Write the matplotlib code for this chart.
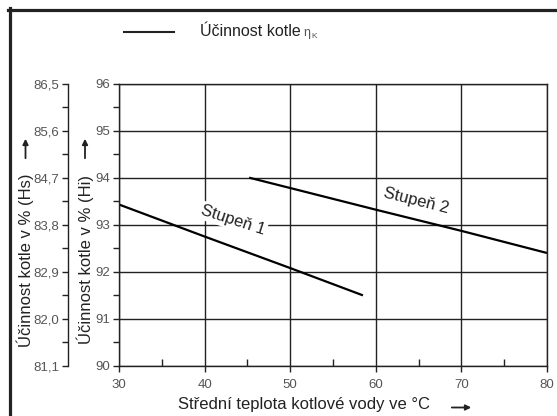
import numpy as np
import matplotlib
matplotlib.use('Agg')
import matplotlib.pyplot as plt
from matplotlib.lines import Line2D
from matplotlib.ticker import MultipleLocator, FixedLocator, FuncFormatter

plt.rcParams['font.family'] = ['Liberation Sans', 'DejaVu Sans']

# curve data
temp_st1 = [30, 40, 50, 58.5]
eff_st1 = [93.43, 92.75, 92.08, 91.5]
temp_st2 = [45.2, 50, 60, 70, 80]
eff_st2 = [94.0, 93.78, 93.32, 92.87, 92.4]

hi_ticks = [90, 91, 92, 93, 94, 95, 96]
hs_ticks = [81.1, 82.0, 82.9, 83.8, 84.7, 85.6, 86.5]
x_ticks = [30, 40, 50, 60, 70, 80]

W, H = 557, 416
fig = plt.figure(figsize=(W / 100, H / 100), dpi=100)
ax = fig.add_axes([119 / W, 1 - 366 / H, 428 / W, (366 - 83.5) / H])

dark = '#222222'
tick_grey = '#555555'

ax.plot(temp_st1, eff_st1, color='black', lw=1.6, solid_capstyle='butt')
ax.plot(temp_st2, eff_st2, color='black', lw=1.6, solid_capstyle='butt')

ax.set_xlim(30, 80)
ax.set_ylim(90, 96)
ax.set_xticks(x_ticks)
ax.set_yticks(hi_ticks)
ax.xaxis.set_minor_locator(MultipleLocator(5))
ax.yaxis.set_minor_locator(MultipleLocator(0.5))
ax.grid(True, which='major', color=dark, lw=1.0)
for s in ['top', 'right', 'left', 'bottom']:
    ax.spines[s].set_color(dark)
    ax.spines[s].set_linewidth(1.0)
ax.tick_params(axis='both', which='major', direction='out', length=4, width=1.0,
               color=dark, labelsize=9.5, labelcolor=tick_grey, pad=2.5)
ax.tick_params(axis='x', which='minor', direction='in', length=5, width=1.0, color=dark)
ax.tick_params(axis='y', which='minor', direction='out', length=4, width=1.0, color=dark)
ax.tick_params(axis='x', which='major', pad=5)

# second scale on the left (Hs)
def hi_to_hs(v):
    return 81.1 + (np.asarray(v) - 90) * 0.9

def hs_to_hi(v):
    return 90 + (np.asarray(v) - 81.1) / 0.9

sec = ax.secondary_yaxis((68 - 119) / 428, functions=(hi_to_hs, hs_to_hi))
sec.yaxis.set_major_locator(FixedLocator(hs_ticks))
sec.yaxis.set_minor_locator(FixedLocator([81.55, 82.45, 83.35, 84.25, 85.15, 86.05]))
sec.yaxis.set_major_formatter(FuncFormatter(lambda v, p: f'{v:.1f}'.replace('.', ',')))
sec.spines['left'].set_color(dark)
sec.spines['left'].set_linewidth(1.0)
sec.tick_params(axis='y', which='major', direction='out', length=4, width=1.0,
                color=dark, labelsize=9.5, labelcolor=tick_grey, pad=2.5)
sec.tick_params(axis='y', which='minor', direction='out', length=4, width=1.0, color=dark)

# curve labels
ax.text(43.3, 93.1, 'Stupeň 1', rotation=-18, ha='center', va='center', fontsize=12,
        color='#222222', bbox=dict(facecolor='white', edgecolor='none', pad=1.5))
ax.text(64.7, 93.51, 'Stupeň 2', rotation=-14, ha='center', va='center', fontsize=12,
        color='#222222')

# axis titles with arrows
fig.text(178 / W, 1 - 405 / H, 'Střední teplota kotlové vody ve °C', ha='left', va='center',
         fontsize=12, color='#222222')
ax.annotate('', xy=(474 / W, 1 - 407.5 / H), xytext=(449 / W, 1 - 407.5 / H),
            xycoords='figure fraction',
            arrowprops=dict(arrowstyle='-|>', color='#222222', lw=1.3, mutation_scale=8))

for xp, lab in [(25.5, 'Účinnost kotle v % (Hs)'), (85, 'Účinnost kotle v % (Hi)')]:
    fig.text(xp / W, 1 - 260 / H, lab, rotation=90, ha='center', va='center',
             fontsize=12, color='#222222')
    ax.annotate('', xy=(xp / W, 1 - 136 / H), xytext=(xp / W, 1 - 161 / H),
                xycoords='figure fraction',
                arrowprops=dict(arrowstyle='-|>', color='#222222', lw=1.3, mutation_scale=8))

# legend-like header
fig.add_artist(Line2D([124 / W, 174 / W], [1 - 32 / H] * 2, color='#222222', lw=1.5))
fig.text(199.5 / W, 1 - 32 / H, 'Účinnost kotle', ha='left', va='center',
         fontsize=11.5, color='#222222')
fig.text(303 / W, 1 - 33 / H, 'η', ha='left', va='center', fontsize=9, color='#555555')
fig.text(311 / W, 1 - 36 / H, 'K', ha='left', va='center', fontsize=6, color='#555555')

# frame (top and left edges)
fig.add_artist(Line2D([8 / W, 1.0], [1 - 9.5 / H] * 2, color='#222222', lw=2.3))
fig.add_artist(Line2D([9.5 / W] * 2, [0.0, 1 - 8 / H], color='#222222', lw=2.3))

fig.savefig('out.png', dpi=100)
